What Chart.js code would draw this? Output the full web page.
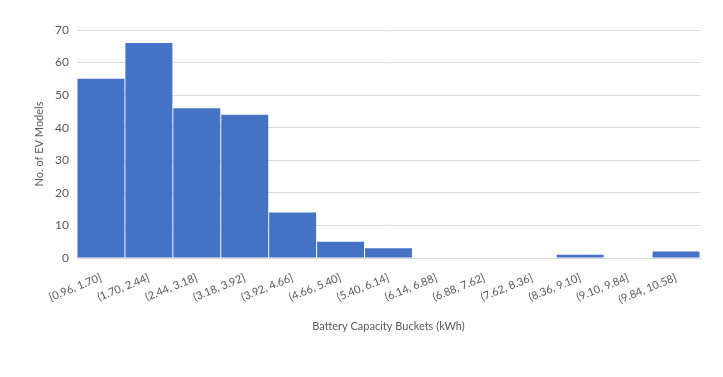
<!DOCTYPE html>
<html>
<head>
<meta charset="utf-8">
<script src="https://cdn.jsdelivr.net/npm/chart.js@4"></script>
<style>
  html, body { margin: 0; padding: 0; background: #fff; }
  #wrap { width: 723px; height: 377px; }
</style>
</head>
<body>
<div id="wrap"><canvas id="histChart" width="723" height="377"></canvas></div>
<script>
// =====================
// DATA
// =====================
const buckets = [
    "[0.96, 1.70]", "(1.70, 2.44]", "(2.44, 3.18]", "(3.18, 3.92]",
    "(3.92, 4.66]", "(4.66, 5.40]", "(5.40, 6.14]", "(6.14, 6.88]",
    "(6.88, 7.62]", "(7.62, 8.36]", "(8.36, 9.10]", "(9.10, 9.84]",
    "(9.84, 10.58]"
];
const modelCounts = [55, 66, 46, 44, 14, 5, 3, 0, 0, 0, 1, 0, 2];
const yTicks = [0, 10, 20, 30, 40, 50, 60, 70];

const textColor = "#595959";
const gridColor = "#d9d9d9";
const fontFamily = "Lato, 'Liberation Sans', sans-serif";

// =====================
// CHART
// =====================
const ctx = document.getElementById("histChart");
new Chart(ctx, {
    type: "bar",
    data: {
        labels: buckets,
        datasets: [{
            data: modelCounts,
            backgroundColor: "#4472c4",
            barPercentage: 0.98,
            categoryPercentage: 1.0
        }]
    },
    options: {
        responsive: false,
        animation: false,
        layout: { padding: { left: 29, right: 23, top: 30, bottom: 40 } },
        plugins: {
            legend: { display: false },
            tooltip: { enabled: false }
        },
        scales: {
            x: {
                grid: { display: false, drawTicks: false },
                border: { color: gridColor },
                ticks: {
                    color: textColor,
                    font: { family: fontFamily, size: 11 },
                    minRotation: 22,
                    maxRotation: 22,
                    padding: 13,
                    autoSkip: false
                },
                title: {
                    display: true,
                    text: "Battery Capacity Buckets (kWh)",
                    color: textColor,
                    font: { family: fontFamily, size: 11 }
                },
                afterFit: scale => { scale.height = 79; }
            },
            y: {
                min: 0,
                max: 70,
                afterBuildTicks: scale => {
                    scale.ticks = yTicks.map(v => ({ value: v }));
                },
                grid: { color: gridColor, drawTicks: false },
                border: { display: false },
                ticks: {
                    color: textColor,
                    font: { family: fontFamily, size: 12 },
                    padding: 8
                },
                title: {
                    display: true,
                    text: "No. of EV Models",
                    color: textColor,
                    font: { family: fontFamily, size: 11 }
                },
                afterFit: scale => { scale.width = 48; }
            }
        }
    }
});
</script>
</body>
</html>
